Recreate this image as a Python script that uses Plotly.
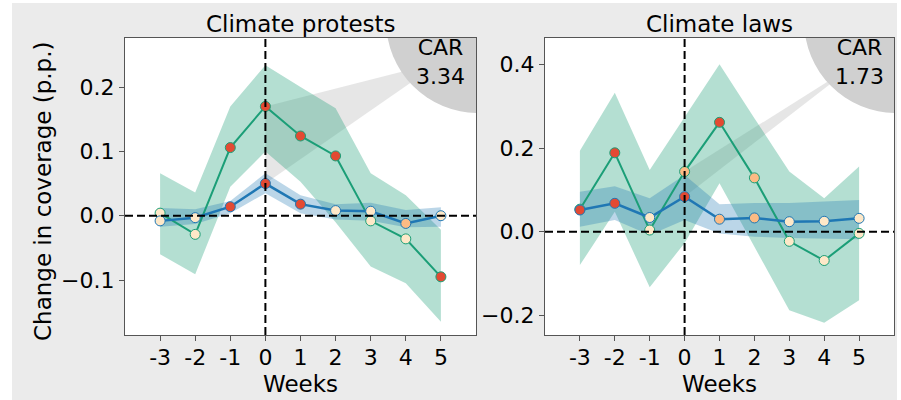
import plotly.graph_objects as go

# ---------------- data ----------------
weeks = [-3, -2, -1, 0, 1, 2, 3, 4, 5]
week_labels = ['-3', '-2', '-1', '0', '1', '2', '3', '4', '5']

panel_titles = ['Climate protests', 'Climate laws']
car_values = ['3.34', '1.73']

# Climate protests
prot_green = [0.004, -0.029, 0.106, 0.170, 0.124, 0.093, -0.008, -0.036, -0.095]
prot_green_lo = [-0.060, -0.091, 0.045, 0.100, 0.053, -0.010, -0.079, -0.105, -0.165]
prot_green_hi = [0.066, 0.036, 0.170, 0.234, 0.200, 0.167, 0.066, 0.032, -0.022]
prot_blue = [-0.008, -0.003, 0.014, 0.050, 0.018, 0.008, 0.007, -0.012, 0.000]
prot_blue_lo = [-0.017, -0.013, 0.004, 0.035, 0.004, -0.006, -0.008, -0.018, -0.017]
prot_blue_hi = [0.012, 0.010, 0.023, 0.066, 0.032, 0.018, 0.020, 0.009, 0.013]
prot_green_sig = ['n', 'n', 's', 's', 's', 's', 'n', 'n', 's']
prot_blue_sig = ['n', 'n', 's', 's', 's', 'n', 'n', 'm', 'n']

# Climate laws
laws_green = [0.054, 0.189, 0.004, 0.144, 0.262, 0.129, -0.023, -0.069, -0.004]
laws_green_lo = [-0.080, 0.048, -0.133, -0.027, 0.116, -0.036, -0.188, -0.218, -0.164]
laws_green_hi = [0.194, 0.333, 0.148, 0.275, 0.401, 0.272, 0.144, 0.080, 0.156]
laws_blue = [0.052, 0.068, 0.034, 0.084, 0.030, 0.033, 0.024, 0.025, 0.032]
laws_blue_lo = [0.012, 0.028, -0.008, 0.028, -0.004, -0.012, -0.015, -0.017, -0.018]
laws_blue_hi = [0.096, 0.109, 0.080, 0.136, 0.066, 0.069, 0.069, 0.072, 0.076]
laws_green_sig = ['n', 's', 'n', 'm', 's', 'm', 'n', 'n', 'n']
laws_blue_sig = ['s', 's', 'n', 's', 'm', 'm', 'n', 'n', 'n']

y_ticks = [[-0.1, 0.0, 0.1, 0.2], [-0.2, 0.0, 0.2, 0.4]]
y_ticktext = [['\u22120.1', '0.0', '0.1', '0.2'], ['\u22120.2', '0.0', '0.2', '0.4']]
y_ranges = [[-0.1855, 0.2764], [-0.2474, 0.464]]
x_range = [-4, 6]

# ---------------- style ----------------
FONT = 'DejaVu Sans'
FS = 22
FS_TITLE = 23
GREEN = '#1b9e77'
BLUE = '#1f77b4'
GREEN_BAND = 'rgba(27,158,119,0.33)'
BLUE_BAND = 'rgba(31,119,180,0.30)'
SIG_COLORS = {'s': '#e34a33', 'm': '#fdbb84', 'n': '#fee8c8'}
AX_COLOR = '#555555'

W, H = 901, 400
ML, MR, MT, MB = 125, 7, 38, 65
PW = W - ML - MR
PH = H - MT - MB
dom_px = [(125, 476), (545, 894)]
domains = [[(a - ML) / PW, (b - ML) / PW] for a, b in dom_px]

fig = go.Figure()

panels = [
    (prot_green, prot_green_lo, prot_green_hi, prot_green_sig,
     prot_blue, prot_blue_lo, prot_blue_hi, prot_blue_sig),
    (laws_green, laws_green_lo, laws_green_hi, laws_green_sig,
     laws_blue, laws_blue_lo, laws_blue_hi, laws_blue_sig),
]

shapes = []
annotations = []

for i, (g, glo, ghi, gsig, b, blo, bhi, bsig) in enumerate(panels):
    xa = 'x' if i == 0 else 'x2'
    ya = 'y' if i == 0 else 'y2'
    ymin, ymax = y_ranges[i]
    axw = dom_px[i][1] - dom_px[i][0]
    xscale = axw / (x_range[1] - x_range[0])
    yscale = PH / (ymax - ymin)

    # text position (axes fraction)
    tx = x_range[0] + 0.9 * (x_range[1] - x_range[0])
    ty = ymin + 0.92 * (ymax - ymin)
    i0 = weeks.index(0)

    # wedge pointing from week-0 estimates to the CAR label
    shapes.append(dict(
        type='path', xref=xa, yref=ya, layer='below',
        path=f'M 0,{b[i0]} L 0,{g[i0]} L {tx},{ty} Z',
        fillcolor='rgba(128,128,128,0.2)', line=dict(width=0)))
    # CAR circle (clipped by axes)
    cx = x_range[0] + 1.006 * (x_range[1] - x_range[0])
    cy = ymin + 1.057 * (ymax - ymin)
    r = 92
    shapes.append(dict(
        type='circle', xref=xa, yref=ya, layer='below',
        x0=cx - r / xscale, x1=cx + r / xscale,
        y0=cy - r / yscale, y1=cy + r / yscale,
        fillcolor='rgb(208,208,208)', line=dict(width=0)))

    # bands
    fig.add_trace(go.Scatter(
        x=weeks + weeks[::-1], y=ghi + glo[::-1], fill='toself',
        fillcolor=GREEN_BAND, line=dict(width=0), mode='lines',
        hoverinfo='skip', showlegend=False, xaxis=xa, yaxis=ya))
    fig.add_trace(go.Scatter(
        x=weeks + weeks[::-1], y=bhi + blo[::-1], fill='toself',
        fillcolor=BLUE_BAND, line=dict(width=0), mode='lines',
        hoverinfo='skip', showlegend=False, xaxis=xa, yaxis=ya))
    # lines
    fig.add_trace(go.Scatter(
        x=weeks, y=g, mode='lines+markers',
        line=dict(color=GREEN, width=2),
        marker=dict(size=10, color=[SIG_COLORS[s] for s in gsig],
                    line=dict(color=GREEN, width=1)),
        showlegend=False, xaxis=xa, yaxis=ya))
    fig.add_trace(go.Scatter(
        x=weeks, y=b, mode='lines+markers',
        line=dict(color=BLUE, width=2.5),
        marker=dict(size=10, color=[SIG_COLORS[s] for s in bsig],
                    line=dict(color=BLUE, width=1)),
        showlegend=False, xaxis=xa, yaxis=ya))

    # dashed zero lines
    shapes.append(dict(type='line', xref=xa, yref=ya, layer='above',
                       x0=x_range[0], x1=x_range[1], y0=0, y1=0,
                       line=dict(color='black', width=2, dash='8px,4px')))
    shapes.append(dict(type='line', xref=xa, yref=ya, layer='above',
                       x0=0, x1=0, y0=ymin, y1=ymax,
                       line=dict(color='black', width=2, dash='8px,4px')))

    # CAR label
    annotations.append(dict(
        x=tx, y=ty, xref=xa, yref=ya, text='CAR<br>' + car_values[i],
        showarrow=False, font=dict(family=FONT, size=FS, color='black'),
        xanchor='center', yanchor='middle', align='center'))

    # panel title
    cxp = (domains[i][0] + domains[i][1]) / 2
    annotations.append(dict(
        x=cxp, y=(H - MB - 24) / PH, xref='paper', yref='paper',
        text=panel_titles[i], showarrow=False,
        font=dict(family=FONT, size=FS_TITLE, color='black'),
        xanchor='center', yanchor='middle'))
    # x axis title
    annotations.append(dict(
        x=cxp, y=(H - MB - 384) / PH, xref='paper', yref='paper',
        text='Weeks', showarrow=False,
        font=dict(family=FONT, size=FS_TITLE, color='black'),
        xanchor='center', yanchor='middle'))

# y axis title
annotations.append(dict(
    x=(43 - ML) / PW, y=(H - MB - 191) / PH, xref='paper', yref='paper',
    text='Change in coverage (p.p.)', textangle=-90, showarrow=False,
    font=dict(family=FONT, size=FS_TITLE, color='black'),
    xanchor='center', yanchor='middle'))

# white page outside the grey figure panel
for (x0, x1, y0, y1) in [(0, 12, 0, 400), (897, 901, 0, 400), (0, 901, 0, 3)]:
    shapes.append(dict(type='rect', xref='paper', yref='paper', layer='above',
                       x0=(x0 - ML) / PW, x1=(x1 - ML) / PW,
                       y0=(H - MB - y1) / PH, y1=(H - MB - y0) / PH,
                       fillcolor='white', line=dict(width=0)))

axis_common = dict(showgrid=False, zeroline=False, showline=True, mirror=True,
                   linecolor=AX_COLOR, linewidth=1.3, ticks='outside',
                   ticklen=5, tickwidth=1.2, tickcolor=AX_COLOR,
                   tickfont=dict(family=FONT, size=FS, color='black'))

fig.update_layout(
    width=W, height=H,
    margin=dict(l=ML, r=MR, t=MT, b=MB, pad=0),
    paper_bgcolor='#ebebeb', plot_bgcolor='white',
    showlegend=False,
    shapes=shapes, annotations=annotations,
    xaxis=dict(domain=domains[0], range=x_range, tickvals=weeks,
               ticktext=week_labels, anchor='y', ticklabelstandoff=-3,
               **axis_common),
    xaxis2=dict(domain=domains[1], range=x_range, tickvals=weeks,
                ticktext=week_labels, anchor='y2', ticklabelstandoff=-3,
                **axis_common),
    yaxis=dict(range=y_ranges[0], tickvals=y_ticks[0], ticktext=y_ticktext[0],
               anchor='x', **axis_common),
    yaxis2=dict(range=y_ranges[1], tickvals=y_ticks[1], ticktext=y_ticktext[1],
                anchor='x2', **axis_common),
)

fig.write_html('out.html')
